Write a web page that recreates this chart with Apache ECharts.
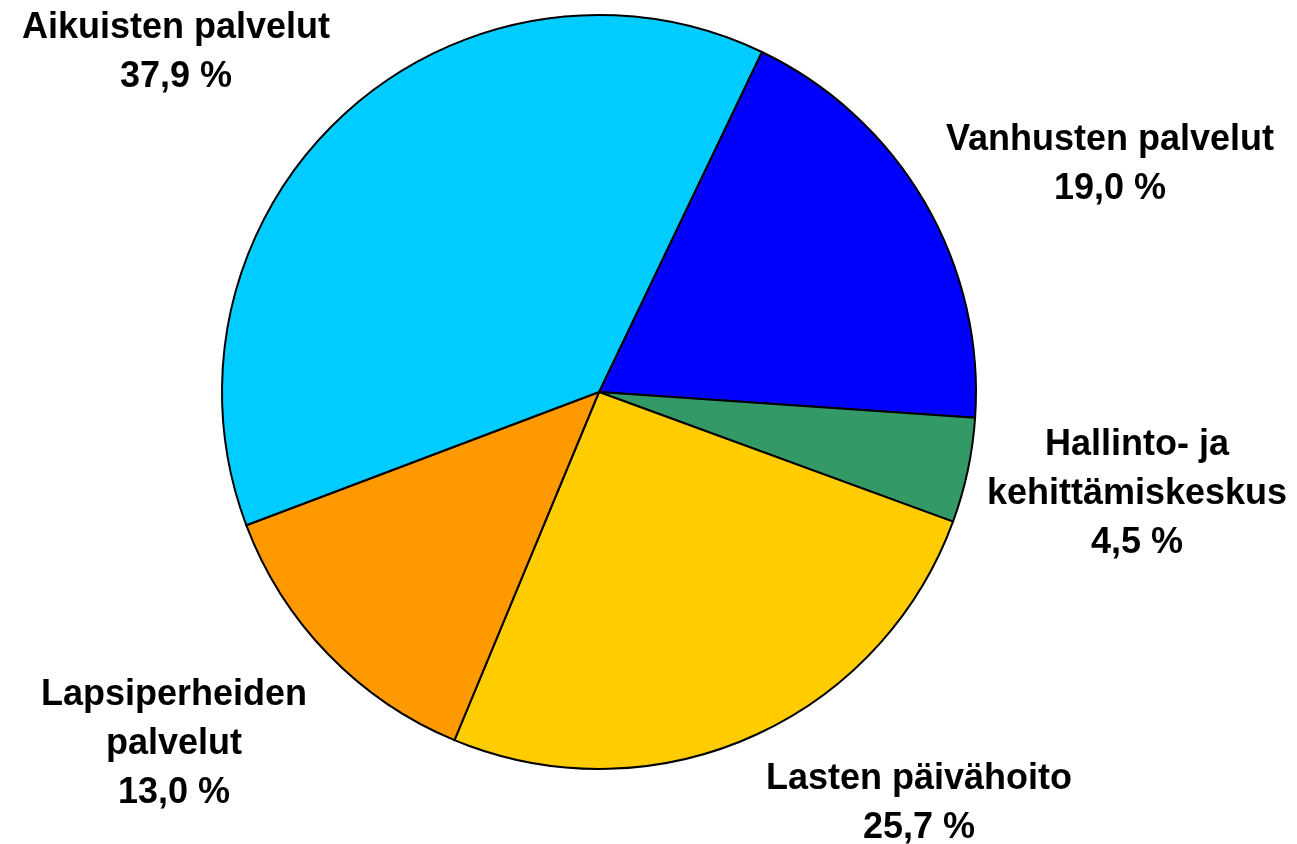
<!DOCTYPE html>
<html>
<head>
<meta charset="utf-8">
<script src="https://cdn.jsdelivr.net/npm/echarts@6/dist/echarts.min.js"></script>
<style>
html,body{margin:0;padding:0;background:#fff;}
#chart{width:1297px;height:844px;}
</style>
</head>
<body>
<div id="chart"></div>
<script>
// Data (clockwise order from the top-right boundary)
const categories = ['Vanhusten palvelut', 'Hallinto- ja\nkehittämiskeskus', 'Lasten päivähoito', 'Lapsiperheiden\npalvelut', 'Aikuisten palvelut'];
const shares = [19.0, 4.5, 25.7, 13.0, 37.9];
const colors = ['#0000FF', '#339966', '#FFCC00', '#FF9900', '#00CCFF'];

// Label block centres (layout)
const labelCentres = [[1110, 165], [1137, 494], [919, 804], [174, 744], [176, 53]];

const chart = echarts.init(document.getElementById('chart'), null, {renderer: 'canvas'});
chart.setOption({
  backgroundColor: '#ffffff',
  animation: false,
  series: [{
    type: 'pie',
    center: [599, 392],
    radius: 377,
    startAngle: 64.4,
    clockwise: true,
    avoidLabelOverlap: false,
    data: categories.map((c, i) => ({
      name: c,
      value: shares[i],
      itemStyle: {color: colors[i]}
    })),
    itemStyle: {borderColor: '#000000', borderWidth: 2},
    label: {
      show: true,
      position: 'outside',
      color: '#000000',
      fontFamily: '"Liberation Sans", Arial, sans-serif',
      fontWeight: 'bold',
      fontSize: 36,
      lineHeight: 49,
      align: 'center',
      formatter: p => p.name + '\n' + p.value.toFixed(1).replace('.', ',') + ' %'
    },
    labelLine: {show: false},
    labelLayout: p => {
      const c = labelCentres[p.dataIndex];
      return {x: c[0], y: c[1], align: 'center', verticalAlign: 'middle'};
    },
    emphasis: {disabled: true}
  }]
});
</script>
</body>
</html>
